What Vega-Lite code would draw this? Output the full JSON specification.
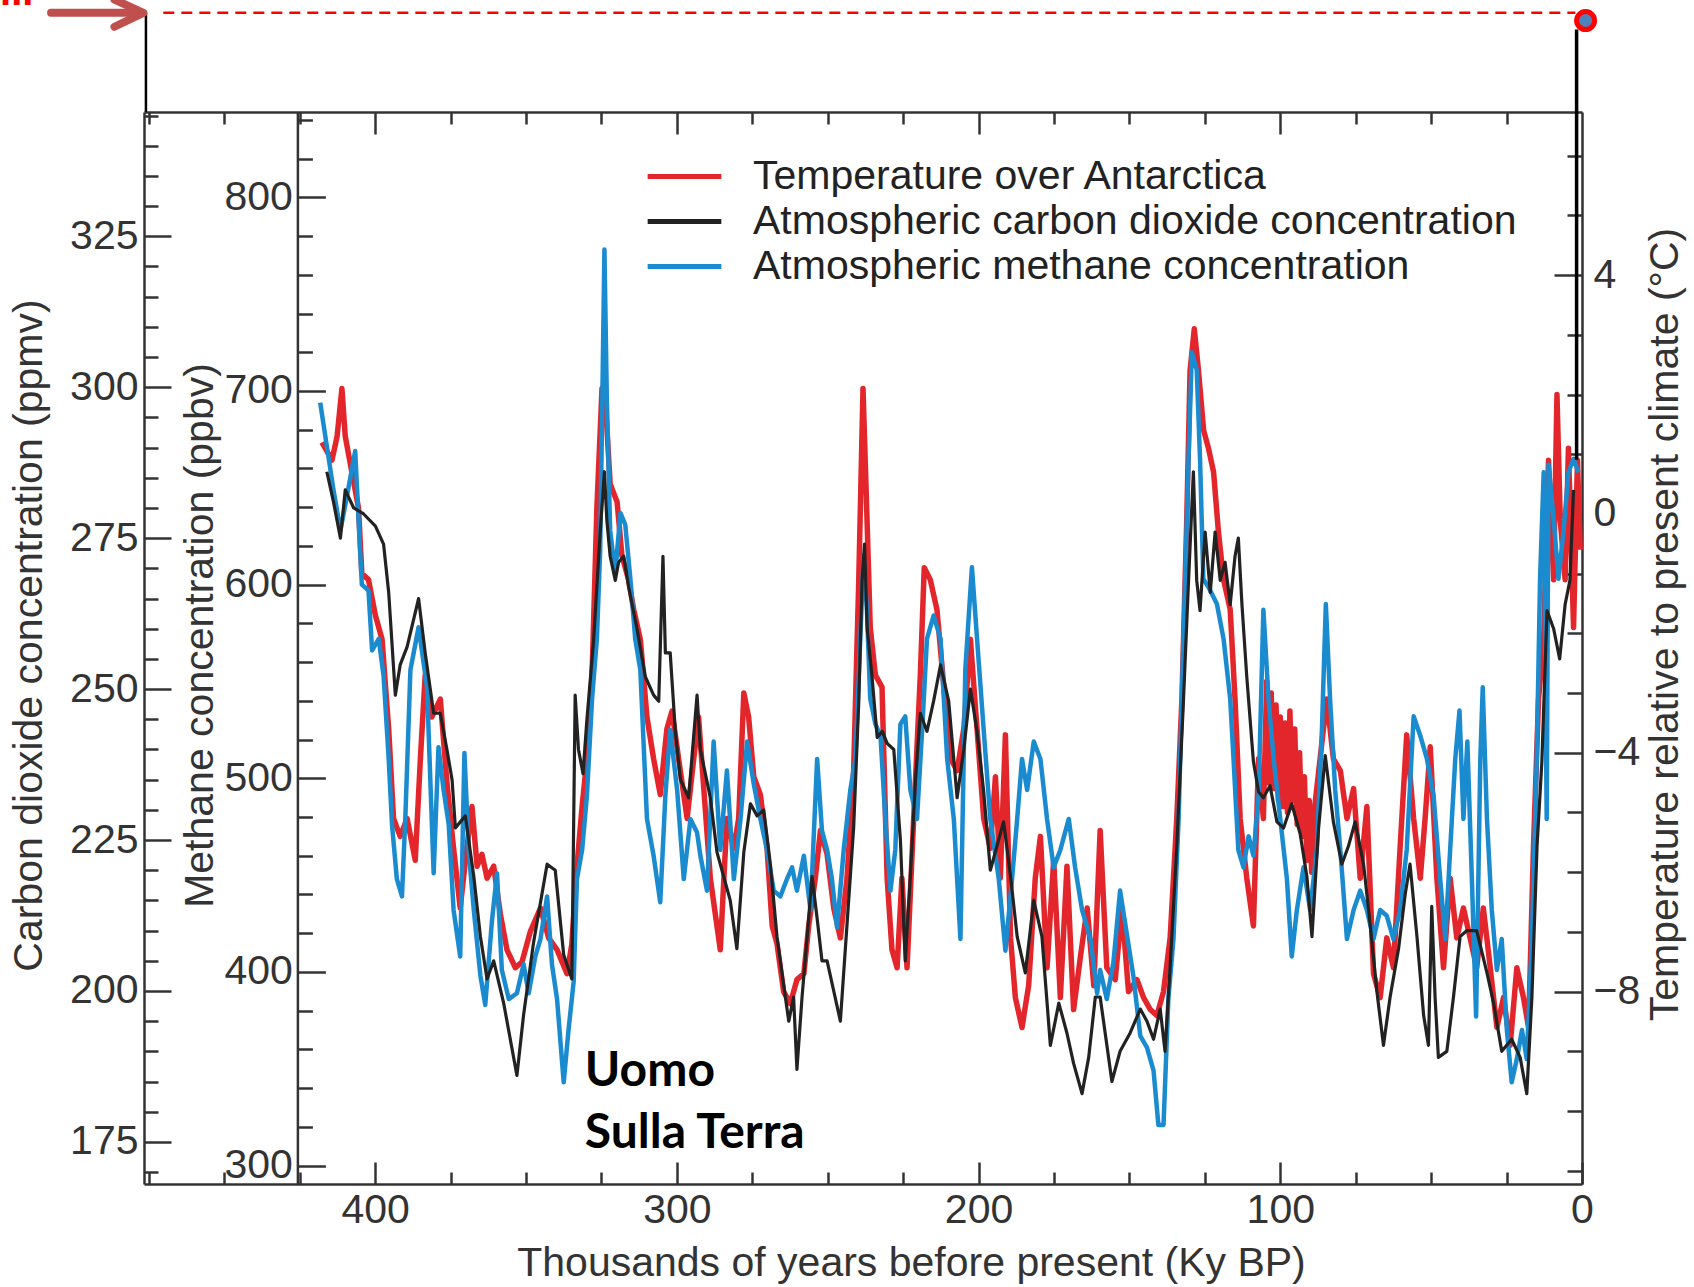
{
  "$schema": "https://vega.github.io/schema/vega-lite/v6.json",
  "width": 1438,
  "height": 1072,
  "autosize": {"type": "none"},
  "padding": {"left": 144, "top": 112, "right": 112, "bottom": 103},
  "background": "white",
  "config": {
    "view": {"stroke": null},
    "axis": {
      "labelFont": "Liberation Sans", "titleFont": "Liberation Sans",
      "labelFontSize": 41, "titleFontSize": 41,
      "labelColor": "#333333", "titleColor": "#333333", "titleFontWeight": "normal",
      "domainColor": "#333333", "tickColor": "#333333", "domainWidth": 2.5, "tickWidth": 2.5,
      "grid": false, "labelFlush": false, "labelOverlap": false
    },
    "legend": {
      "labelFont": "Liberation Sans", "labelFontSize": 41, "labelColor": "#222222",
      "symbolType": "M-2.33,0H2.33", "symbolSize": 1000, "symbolStrokeWidth": 5,
      "labelOffset": 48, "rowPadding": 3, "padding": 0, "labelLimit": 1000
    }
  },
  "datasets": {
    "temp": [
      {"ky":417.6,"temp":1.2},{"ky":414.3,"temp":0.9},{"ky":412.6,"temp":1.3},{"ky":411.0,"temp":2.1},{"ky":409.9,"temp":1.3},{"ky":407.7,"temp":0.7},{"ky":405.5,"temp":0.1},{"ky":404.4,"temp":-1.0},{"ky":402.2,"temp":-1.1},{"ky":399.9,"temp":-1.7},{"ky":397.7,"temp":-2.1},{"ky":395.5,"temp":-3.6},{"ky":393.9,"temp":-5.1},{"ky":391.7,"temp":-5.4},{"ky":389.4,"temp":-5.1},{"ky":386.7,"temp":-5.8},{"ky":385.0,"temp":-4.1},{"ky":383.4,"temp":-2.7},{"ky":381.2,"temp":-3.4},{"ky":378.4,"temp":-3.1},{"ky":376.2,"temp":-4.5},{"ky":374.0,"temp":-5.6},{"ky":371.8,"temp":-6.6},{"ky":369.6,"temp":-5.6},{"ky":367.9,"temp":-4.9},{"ky":366.2,"temp":-5.9},{"ky":364.6,"temp":-5.7},{"ky":362.9,"temp":-6.1},{"ky":360.7,"temp":-5.9},{"ky":358.5,"temp":-6.7},{"ky":356.3,"temp":-7.3},{"ky":353.5,"temp":-7.6},{"ky":351.3,"temp":-7.5},{"ky":348.6,"temp":-7.0},{"ky":345.2,"temp":-6.6},{"ky":342.5,"temp":-7.1},{"ky":339.7,"temp":-7.3},{"ky":336.4,"temp":-7.7},{"ky":334.8,"temp":-7.2},{"ky":333.1,"temp":-5.9},{"ky":331.4,"temp":-4.9},{"ky":329.8,"temp":-4.1},{"ky":328.1,"temp":-2.7},{"ky":326.5,"temp":0.1},{"ky":324.8,"temp":2.1},{"ky":323.7,"temp":1.9},{"ky":322.1,"temp":0.5},{"ky":319.8,"temp":0.2},{"ky":318.2,"temp":-0.7},{"ky":316.0,"temp":-1.1},{"ky":314.3,"temp":-1.6},{"ky":312.1,"temp":-2.1},{"ky":309.9,"temp":-3.4},{"ky":307.7,"temp":-4.1},{"ky":305.5,"temp":-4.7},{"ky":303.3,"temp":-3.6},{"ky":301.6,"temp":-3.3},{"ky":299.4,"temp":-4.1},{"ky":296.6,"temp":-5.1},{"ky":294.4,"temp":-4.1},{"ky":292.8,"temp":-3.4},
      {"ky":291.5,"temp":-4.3},{"ky":288.9,"temp":-6.1},{"ky":285.6,"temp":-7.3},{"ky":283.4,"temp":-5.1},{"ky":281.1,"temp":-5.6},{"ky":279.5,"temp":-5.1},{"ky":277.8,"temp":-3.0},{"ky":276.2,"temp":-3.4},{"ky":274.5,"temp":-4.4},{"ky":272.3,"temp":-4.7},{"ky":270.1,"temp":-5.6},{"ky":268.4,"temp":-6.9},{"ky":266.8,"temp":-7.2},{"ky":264.6,"temp":-8.0},{"ky":262.4,"temp":-8.2},{"ky":260.2,"temp":-7.8},{"ky":257.9,"temp":-7.7},{"ky":256.3,"temp":-6.9},{"ky":254.1,"temp":-6.1},{"ky":252.4,"temp":-5.3},{"ky":250.2,"temp":-5.7},{"ky":248.0,"temp":-6.6},{"ky":245.8,"temp":-7.1},{"ky":243.6,"temp":-6.1},{"ky":241.4,"temp":-4.3},{"ky":239.7,"temp":-1.1},{"ky":238.3,"temp":2.1},{"ky":237.2,"temp":0.3},{"ky":235.9,"temp":-1.9},{"ky":234.2,"temp":-2.7},{"ky":232.0,"temp":-2.9},{"ky":230.3,"temp":-6.1},{"ky":228.7,"temp":-7.3},{"ky":227.0,"temp":-7.6},{"ky":225.4,"temp":-6.1},{"ky":223.7,"temp":-7.6},{"ky":221.5,"temp":-5.1},{"ky":219.3,"temp":-2.7},{"ky":218.0,"temp":-0.9},{"ky":216.0,"temp":-1.1},{"ky":213.8,"temp":-1.6},{"ky":211.5,"temp":-2.9},{"ky":209.3,"temp":-4.1},{"ky":207.1,"temp":-4.3},{"ky":204.9,"temp":-3.6},{"ky":202.7,"temp":-2.1},{"ky":200.5,"temp":-3.6},{"ky":198.3,"temp":-5.1},{"ky":196.1,"temp":-5.6},{"ky":194.4,"temp":-4.4},{"ky":192.8,"temp":-6.1},{"ky":191.1,"temp":-3.7},{"ky":189.4,"temp":-7.1},{"ky":187.8,"temp":-8.1},{"ky":185.6,"temp":-8.6},{"ky":183.4,"temp":-7.9},{"ky":181.2,"temp":-6.1},{"ky":179.5,"temp":-5.4},{"ky":177.3,"temp":-7.6},{"ky":175.1,"temp":-5.8},{"ky":172.9,"temp":-8.1},{"ky":170.7,"temp":-5.9},{"ky":168.5,"temp":-8.3},{"ky":166.2,"temp":-7.4},{"ky":164.0,"temp":-6.6},{"ky":161.8,"temp":-7.9},
      {"ky":159.7,"temp":-5.3},{"ky":157.5,"temp":-7.6},{"ky":154.7,"temp":-7.8},{"ky":152.5,"temp":-6.6},{"ky":150.3,"temp":-8.0},{"ky":147.5,"temp":-7.8},{"ky":145.3,"temp":-8.1},{"ky":143.1,"temp":-8.3},{"ky":140.9,"temp":-8.4},{"ky":138.7,"temp":-8.0},{"ky":136.5,"temp":-7.1},{"ky":134.3,"temp":-5.1},{"ky":132.6,"temp":-3.1},{"ky":131.0,"temp":-0.1},{"ky":129.9,"temp":2.4},{"ky":128.5,"temp":3.1},{"ky":127.1,"temp":2.4},{"ky":125.4,"temp":1.4},{"ky":123.8,"temp":1.1},{"ky":122.1,"temp":0.7},{"ky":120.5,"temp":-0.3},{"ky":118.8,"temp":-1.1},{"ky":116.6,"temp":-1.6},{"ky":115.0,"temp":-3.1},{"ky":113.3,"temp":-5.1},{"ky":111.1,"temp":-6.1},{"ky":108.9,"temp":-6.9},{"ky":107.2,"temp":-4.1},{"ky":105.6,"temp":-5.1},{"ky":104.5,"temp":-2.8},{"ky":103.9,"temp":-4.5},{"ky":103.0,"temp":-3.0},{"ky":102.2,"temp":-4.6},{"ky":101.4,"temp":-3.2},{"ky":100.6,"temp":-4.8},{"ky":100.0,"temp":-3.4},{"ky":99.2,"temp":-4.9},{"ky":98.4,"temp":-3.5},{"ky":97.6,"temp":-5.0},{"ky":96.8,"temp":-3.3},{"ky":96.0,"temp":-4.8},{"ky":95.2,"temp":-3.6},{"ky":94.4,"temp":-5.2},{"ky":93.6,"temp":-4.0},{"ky":92.8,"temp":-5.4},{"ky":92.0,"temp":-4.4},{"ky":91.2,"temp":-5.8},{"ky":90.4,"temp":-4.8},{"ky":89.6,"temp":-6.0},{"ky":88.8,"temp":-5.0},{"ky":86.8,"temp":-4.1},{"ky":84.6,"temp":-3.1},{"ky":82.4,"temp":-4.1},{"ky":80.1,"temp":-4.3},{"ky":77.9,"temp":-5.1},{"ky":75.7,"temp":-4.6},{"ky":73.5,"temp":-6.1},{"ky":71.3,"temp":-4.9},{"ky":69.1,"temp":-7.7},{"ky":66.9,"temp":-8.1},{"ky":64.7,"temp":-7.1},{"ky":62.5,"temp":-7.6},{"ky":60.3,"temp":-5.6},{"ky":58.1,"temp":-3.7},{"ky":55.8,"temp":-5.1},{"ky":53.6,"temp":-6.1},{"ky":52.0,"temp":-5.1},{"ky":50.3,"temp":-3.9},{"ky":48.1,"temp":-6.1},{"ky":45.9,"temp":-7.6},{"ky":43.7,"temp":-6.1},{"ky":41.5,"temp":-7.1},{"ky":39.3,"temp":-6.6},{"ky":37.1,"temp":-7.1},{"ky":34.9,"temp":-7.6},{"ky":32.7,"temp":-6.6},{"ky":30.4,"temp":-7.6},{"ky":28.2,"temp":-8.6},{"ky":26.0,"temp":-8.1},{"ky":23.8,"temp":-8.9},{"ky":21.6,"temp":-7.6},{"ky":19.4,"temp":-8.1},{"ky":17.7,"temp":-8.6},{"ky":16.1,"temp":-5.6},{"ky":14.4,"temp":-3.1},{"ky":12.7,"temp":-2.1},{"ky":11.1,"temp":0.9},{"ky":9.4,"temp":-1.1},{"ky":8.3,"temp":2.0},{"ky":7.2,"temp":-0.1},{"ky":5.6,"temp":-1.1},{"ky":4.5,"temp":1.1},{"ky":2.8,"temp":-1.9},{"ky":1.5,"temp":0.9},{"ky":0.6,"temp":-0.6}
    ],
    "ch4": [
      {"ky":418.2,"ch4":694},{"ky":413.8,"ch4":649},{"ky":411.5,"ch4":628},{"ky":409.3,"ch4":646},{"ky":406.6,"ch4":669},{"ky":405.5,"ch4":634},{"ky":404.4,"ch4":600},{"ky":402.2,"ch4":597},{"ky":401.0,"ch4":566},{"ky":398.8,"ch4":572},{"ky":397.2,"ch4":553},{"ky":395.5,"ch4":510},{"ky":394.4,"ch4":476},{"ky":392.8,"ch4":448},{"ky":391.1,"ch4":439},{"ky":390.0,"ch4":479},{"ky":388.3,"ch4":556},{"ky":385.6,"ch4":578},{"ky":382.8,"ch4":547},{"ky":380.6,"ch4":451},{"ky":379.0,"ch4":516},{"ky":377.3,"ch4":494},{"ky":375.6,"ch4":476},{"ky":374.0,"ch4":432},{"ky":371.8,"ch4":408},{"ky":370.4,"ch4":513},{"ky":369.0,"ch4":463},{"ky":367.3,"ch4":432},{"ky":365.1,"ch4":398},{"ky":363.5,"ch4":383},{"ky":361.3,"ch4":426},{"ky":359.6,"ch4":451},{"ky":358.0,"ch4":401},{"ky":355.7,"ch4":386},{"ky":353.0,"ch4":389},{"ky":350.8,"ch4":404},{"ky":349.1,"ch4":389},{"ky":346.9,"ch4":408},{"ky":345.2,"ch4":417},{"ky":343.0,"ch4":439},{"ky":341.4,"ch4":404},{"ky":339.7,"ch4":386},{"ky":337.5,"ch4":343},{"ky":335.9,"ch4":370},{"ky":334.2,"ch4":395},{"ky":333.1,"ch4":448},{"ky":331.4,"ch4":463},{"ky":329.8,"ch4":491},{"ky":328.1,"ch4":541},{"ky":326.5,"ch4":572},{"ky":325.4,"ch4":618},{"ky":324.0,"ch4":773},{"ky":323.2,"ch4":696},{"ky":322.1,"ch4":628},{"ky":320.4,"ch4":606},{"ky":318.7,"ch4":637},{"ky":317.1,"ch4":631},{"ky":315.4,"ch4":603},{"ky":313.8,"ch4":572},{"ky":312.1,"ch4":556},{"ky":309.9,"ch4":479},{"ky":307.7,"ch4":460},{"ky":305.5,"ch4":436},{"ky":303.8,"ch4":491},{"ky":302.2,"ch4":525},{"ky":299.9,"ch4":494},{"ky":297.7,"ch4":448},{"ky":295.5,"ch4":479},{"ky":293.3,"ch4":472},
      {"ky":292.2,"ch4":460},{"ky":290.0,"ch4":442},{"ky":287.8,"ch4":519},{"ky":285.6,"ch4":463},{"ky":283.4,"ch4":504},{"ky":281.1,"ch4":448},{"ky":278.9,"ch4":479},{"ky":276.7,"ch4":519},{"ky":274.5,"ch4":497},{"ky":272.3,"ch4":479},{"ky":270.1,"ch4":463},{"ky":267.9,"ch4":442},{"ky":265.7,"ch4":439},{"ky":263.5,"ch4":448},{"ky":261.8,"ch4":454},{"ky":260.2,"ch4":442},{"ky":257.9,"ch4":460},{"ky":255.7,"ch4":432},{"ky":253.5,"ch4":510},{"ky":251.9,"ch4":473},{"ky":250.2,"ch4":463},{"ky":248.6,"ch4":448},{"ky":246.9,"ch4":423},{"ky":244.7,"ch4":463},{"ky":242.5,"ch4":494},{"ky":240.8,"ch4":510},{"ky":239.2,"ch4":572},{"ky":238.1,"ch4":615},{"ky":237.0,"ch4":587},{"ky":235.9,"ch4":541},{"ky":234.2,"ch4":528},{"ky":232.5,"ch4":522},{"ky":230.9,"ch4":479},{"ky":229.2,"ch4":442},{"ky":227.6,"ch4":463},{"ky":225.9,"ch4":528},{"ky":224.3,"ch4":532},{"ky":222.6,"ch4":494},{"ky":220.4,"ch4":479},{"ky":218.7,"ch4":525},{"ky":217.1,"ch4":572},{"ky":214.9,"ch4":584},{"ky":212.6,"ch4":572},{"ky":210.4,"ch4":510},{"ky":208.2,"ch4":479},{"ky":206.0,"ch4":417},{"ky":204.4,"ch4":556},{"ky":202.2,"ch4":609},{"ky":200.5,"ch4":572},{"ky":198.3,"ch4":525},{"ky":196.1,"ch4":479},{"ky":193.3,"ch4":448},{"ky":191.1,"ch4":411},{"ky":188.9,"ch4":448},{"ky":187.2,"ch4":479},{"ky":185.6,"ch4":510},{"ky":183.9,"ch4":494},{"ky":181.7,"ch4":519},{"ky":179.5,"ch4":510},{"ky":177.3,"ch4":479},{"ky":175.1,"ch4":454},{"ky":172.9,"ch4":463},{"ky":170.1,"ch4":479},{"ky":168.0,"ch4":454},{"ky":165.7,"ch4":432},{"ky":162.9,"ch4":417},{"ky":160.7,"ch4":389},
      {"ky":159.7,"ch4":401},{"ky":157.5,"ch4":386},{"ky":155.3,"ch4":405},{"ky":153.1,"ch4":442},{"ky":150.9,"ch4":420},{"ky":148.7,"ch4":398},{"ky":146.4,"ch4":367},{"ky":144.2,"ch4":361},{"ky":142.0,"ch4":349},{"ky":140.4,"ch4":321},{"ky":138.7,"ch4":321},{"ky":137.1,"ch4":386},{"ky":135.4,"ch4":417},{"ky":133.7,"ch4":479},{"ky":132.1,"ch4":572},{"ky":130.4,"ch4":665},{"ky":129.3,"ch4":720},{"ky":127.7,"ch4":711},{"ky":126.6,"ch4":665},{"ky":125.5,"ch4":603},{"ky":123.2,"ch4":597},{"ky":121.0,"ch4":590},{"ky":118.8,"ch4":572},{"ky":116.6,"ch4":541},{"ky":115.5,"ch4":510},{"ky":113.9,"ch4":463},{"ky":112.2,"ch4":454},{"ky":110.5,"ch4":470},{"ky":108.9,"ch4":460},{"ky":107.2,"ch4":491},{"ky":105.6,"ch4":587},{"ky":103.9,"ch4":541},{"ky":102.2,"ch4":510},{"ky":100.0,"ch4":479},{"ky":97.8,"ch4":448},{"ky":96.2,"ch4":408},{"ky":94.5,"ch4":432},{"ky":92.3,"ch4":454},{"ky":90.1,"ch4":432},{"ky":87.9,"ch4":463},{"ky":86.2,"ch4":525},{"ky":84.9,"ch4":590},{"ky":83.5,"ch4":541},{"ky":81.8,"ch4":494},{"ky":80.1,"ch4":463},{"ky":77.9,"ch4":417},{"ky":75.7,"ch4":432},{"ky":73.5,"ch4":442},{"ky":71.3,"ch4":432},{"ky":69.1,"ch4":417},{"ky":66.9,"ch4":432},{"ky":64.7,"ch4":429},{"ky":62.5,"ch4":417},{"ky":60.3,"ch4":432},{"ky":58.1,"ch4":463},{"ky":55.8,"ch4":532},{"ky":53.6,"ch4":522},{"ky":51.4,"ch4":510},{"ky":49.2,"ch4":491},{"ky":47.0,"ch4":448},{"ky":45.3,"ch4":417},{"ky":43.7,"ch4":463},{"ky":42.0,"ch4":510},{"ky":40.6,"ch4":535},{"ky":39.3,"ch4":479},{"ky":38.0,"ch4":519},{"ky":36.5,"ch4":448},{"ky":35.1,"ch4":377},{"ky":33.7,"ch4":510},{"ky":32.9,"ch4":547},{"ky":31.5,"ch4":479},{"ky":29.9,"ch4":432},{"ky":28.2,"ch4":401},{"ky":26.6,"ch4":417},{"ky":24.9,"ch4":370},{"ky":23.3,"ch4":343},{"ky":21.6,"ch4":355},{"ky":19.9,"ch4":370},{"ky":18.3,"ch4":355},{"ky":16.6,"ch4":417},{"ky":15.0,"ch4":510},{"ky":13.9,"ch4":603},{"ky":12.7,"ch4":658},{"ky":11.7,"ch4":479},{"ky":11.1,"ch4":662},{"ky":9.4,"ch4":634},{"ky":7.8,"ch4":603},{"ky":6.1,"ch4":628},{"ky":4.5,"ch4":658},{"ky":2.8,"ch4":665},{"ky":1.2,"ch4":658}
    ],
    "co2": [
      {"ky":416.0,"co2":286},{"ky":413.8,"co2":281},{"ky":411.5,"co2":275},{"ky":409.9,"co2":283},{"ky":407.1,"co2":280},{"ky":403.8,"co2":279},{"ky":399.9,"co2":277},{"ky":397.2,"co2":274},{"ky":395.5,"co2":266},{"ky":393.3,"co2":249},{"ky":391.7,"co2":254},{"ky":389.4,"co2":257},{"ky":385.6,"co2":265},{"ky":383.4,"co2":256},{"ky":380.6,"co2":246},{"ky":378.4,"co2":246},{"ky":376.2,"co2":240},{"ky":374.5,"co2":235},{"ky":373.4,"co2":227},{"ky":371.8,"co2":228},{"ky":370.1,"co2":229},{"ky":367.3,"co2":219},{"ky":365.1,"co2":209},{"ky":362.9,"co2":202},{"ky":360.7,"co2":205},{"ky":357.4,"co2":198},{"ky":353.0,"co2":186},{"ky":350.8,"co2":196},{"ky":347.5,"co2":208},{"ky":343.0,"co2":221},{"ky":340.3,"co2":220},{"ky":337.5,"co2":206},{"ky":334.8,"co2":202},{"ky":333.7,"co2":249},{"ky":332.6,"co2":240},{"ky":331.1,"co2":236},{"ky":329.8,"co2":245},{"ky":327.6,"co2":258},{"ky":325.4,"co2":276},{"ky":324.0,"co2":286},{"ky":323.2,"co2":278},{"ky":322.1,"co2":272},{"ky":320.4,"co2":268},{"ky":319.3,"co2":271},{"ky":317.6,"co2":272},{"ky":316.0,"co2":267},{"ky":313.2,"co2":260},{"ky":310.4,"co2":252},{"ky":307.7,"co2":249},{"ky":306.0,"co2":248},{"ky":304.6,"co2":272},{"ky":303.8,"co2":256},{"ky":302.2,"co2":256},{"ky":300.5,"co2":243},{"ky":298.8,"co2":235},{"ky":296.1,"co2":232},{"ky":293.3,"co2":249},
      {"ky":292.2,"co2":240},{"ky":288.9,"co2":232},{"ky":286.7,"co2":223},{"ky":284.5,"co2":219},{"ky":282.3,"co2":215},{"ky":280.1,"co2":207},{"ky":277.8,"co2":223},{"ky":275.6,"co2":231},{"ky":273.4,"co2":229},{"ky":271.2,"co2":230},{"ky":269.0,"co2":221},{"ky":266.8,"co2":209},{"ky":264.6,"co2":201},{"ky":262.9,"co2":195},{"ky":261.3,"co2":199},{"ky":260.2,"co2":187},{"ky":258.5,"co2":199},{"ky":256.8,"co2":209},{"ky":255.2,"co2":219},{"ky":253.5,"co2":212},{"ky":251.9,"co2":205},{"ky":250.2,"co2":205},{"ky":248.0,"co2":200},{"ky":245.8,"co2":195},{"ky":243.6,"co2":211},{"ky":241.4,"co2":227},{"ky":239.7,"co2":248},{"ky":238.6,"co2":268},{"ky":237.8,"co2":274},{"ky":236.9,"co2":260},{"ky":235.3,"co2":252},{"ky":233.6,"co2":242},{"ky":231.9,"co2":243},{"ky":230.3,"co2":241},{"ky":228.1,"co2":240},{"ky":225.9,"co2":225},{"ky":224.3,"co2":205},{"ky":222.6,"co2":219},{"ky":220.9,"co2":235},{"ky":219.3,"co2":246},{"ky":217.1,"co2":243},{"ky":214.9,"co2":248},{"ky":212.6,"co2":254},{"ky":209.9,"co2":248},{"ky":207.1,"co2":232},{"ky":204.9,"co2":240},{"ky":202.7,"co2":250},{"ky":200.5,"co2":243},{"ky":198.3,"co2":233},{"ky":196.1,"co2":220},{"ky":193.9,"co2":224},{"ky":191.7,"co2":228},{"ky":189.4,"co2":219},{"ky":187.2,"co2":209},{"ky":184.5,"co2":203},{"ky":181.7,"co2":215},{"ky":179.0,"co2":209},{"ky":176.2,"co2":191},{"ky":173.4,"co2":198},{"ky":170.7,"co2":193},{"ky":168.5,"co2":188},{"ky":165.7,"co2":183},{"ky":163.5,"co2":189},{"ky":161.3,"co2":199},
      {"ky":159.7,"co2":199},{"ky":155.8,"co2":185},{"ky":153.1,"co2":190},{"ky":149.8,"co2":193},{"ky":146.4,"co2":197},{"ky":144.2,"co2":195},{"ky":142.0,"co2":192},{"ky":139.8,"co2":197},{"ky":138.2,"co2":190},{"ky":136.5,"co2":204},{"ky":134.3,"co2":224},{"ky":132.1,"co2":248},{"ky":130.4,"co2":268},{"ky":128.8,"co2":286},{"ky":127.7,"co2":268},{"ky":126.6,"co2":263},{"ky":124.9,"co2":276},{"ky":123.2,"co2":266},{"ky":121.6,"co2":276},{"ky":119.9,"co2":268},{"ky":118.3,"co2":271},{"ky":116.6,"co2":264},{"ky":115.0,"co2":272},{"ky":113.9,"co2":275},{"ky":112.7,"co2":264},{"ky":111.1,"co2":252},{"ky":108.9,"co2":238},{"ky":107.2,"co2":233},{"ky":105.6,"co2":232},{"ky":103.4,"co2":234},{"ky":101.1,"co2":228},{"ky":98.9,"co2":227},{"ky":96.2,"co2":231},{"ky":93.4,"co2":226},{"ky":91.2,"co2":219},{"ky":89.5,"co2":209},{"ky":87.3,"co2":227},{"ky":85.1,"co2":239},{"ky":82.4,"co2":228},{"ky":79.6,"co2":221},{"ky":77.4,"co2":224},{"ky":75.2,"co2":228},{"ky":72.4,"co2":221},{"ky":70.2,"co2":211},{"ky":68.0,"co2":200},{"ky":65.8,"co2":191},{"ky":63.6,"co2":199},{"ky":60.8,"co2":207},{"ky":58.6,"co2":216},{"ky":57.0,"co2":221},{"ky":54.7,"co2":209},{"ky":52.5,"co2":196},{"ky":50.9,"co2":191},{"ky":49.8,"co2":214},{"ky":48.7,"co2":199},{"ky":47.6,"co2":189},{"ky":44.8,"co2":190},{"ky":42.6,"co2":199},{"ky":40.4,"co2":209},{"ky":38.2,"co2":210},{"ky":34.9,"co2":210},{"ky":31.5,"co2":203},{"ky":29.3,"co2":198},{"ky":26.6,"co2":190},{"ky":23.3,"co2":192},{"ky":20.5,"co2":189},{"ky":18.3,"co2":183},{"ky":16.6,"co2":199},{"ky":14.9,"co2":224},{"ky":13.3,"co2":238},{"ky":11.6,"co2":263},{"ky":9.4,"co2":260},{"ky":7.4,"co2":255},{"ky":5.6,"co2":264},{"ky":4.0,"co2":268},{"ky":2.8,"co2":283}
    ]
  },
  "layer": [
    {
      "data": {"name": "temp"},
      "mark": {"type": "line", "strokeWidth": 5.5, "strokeJoin": "round"},
      "encoding": {
        "x": {"field": "ky", "type": "quantitative",
          "scale": {"domain": [0, 476.6], "reverse": true, "nice": false, "zero": false},
          "axis": {"orient": "bottom", "values": [0, 100, 200, 300, 400], "tickSize": -22, "labelPadding": 28,
            "title": "Thousands of years before present (Ky BP)", "titleX": 767, "titleY": 91, "titleBaseline": "alphabetic", "titleAnchor": null, "titleAlign": "center"}},
        "y": {"field": "temp", "type": "quantitative",
          "scale": {"domain": [-11.222, 6.732], "nice": false, "zero": false},
          "axis": {"orient": "right", "values": [-8, -4, 0, 4], "tickSize": -28, "labelPadding": 39, "labelAlign": "left",
            "title": "Temperature relative to present climate (°C)", "titleAngle": 270, "titleX": 83, "titleY": 512, "titleAlign": "center", "titleBaseline": "middle"}},
        "color": {"datum": "Temperature over Antarctica", "type": "nominal",
          "scale": {"domain": ["Temperature over Antarctica", "Atmospheric carbon dioxide concentration", "Atmospheric methane concentration"], "range": ["#e3262b", "#222222", "#1b8bcf"]},
          "legend": {"orient": "none", "legendX": 520, "legendY": 44, "title": null, "direction": "vertical"}}
      }
    },
    {
      "data": {"name": "ch4"},
      "mark": {"type": "line", "strokeWidth": 4.5, "strokeJoin": "round"},
      "encoding": {
        "x": {"field": "ky", "type": "quantitative",
          "scale": {"domain": [0, 476.6], "reverse": true, "nice": false, "zero": false},
          "axis": {"orient": "bottom", "values": [25, 50, 75, 125, 150, 175, 225, 250, 275, 325, 350, 375, 425, 450, 475], "tickSize": -12, "labels": false, "domain": false, "title": null}},
        "y": {"field": "ch4", "type": "quantitative",
          "scale": {"domain": [290.5, 844.06], "nice": false, "zero": false},
          "axis": {"orient": "left", "offset": -153.4, "values": [300, 400, 500, 600, 700, 800], "tickSize": -28, "labelPadding": 33,
            "title": "Methane concentration (ppbv)", "titleAngle": 270, "titleX": -97, "titleY": 523, "titleAlign": "center", "titleBaseline": "middle"}},
        "color": {"datum": "Atmospheric methane concentration", "type": "nominal"}
      }
    },
    {
      "data": {"name": "co2"},
      "mark": {"type": "line", "strokeWidth": 3.2, "strokeJoin": "round"},
      "encoding": {
        "x": {"field": "ky", "type": "quantitative",
          "scale": {"domain": [0, 476.6], "reverse": true, "nice": false, "zero": false},
          "axis": {"orient": "top", "values": [100, 200, 300, 400], "tickSize": -22, "labels": false, "title": null}},
        "y": {"field": "co2", "type": "quantitative",
          "scale": {"domain": [168.03, 345.58], "nice": false, "zero": false},
          "axis": {"orient": "left", "values": [175, 200, 225, 250, 275, 300, 325], "tickSize": -27, "labelPadding": 33,
            "title": "Carbon dioxide concentration (ppmv)", "titleAngle": 270, "titleX": -115, "titleY": 523, "titleAlign": "center", "titleBaseline": "middle"}},
        "color": {"datum": "Atmospheric carbon dioxide concentration", "type": "nominal"}
      }
    },
    {
      "data": {"values": [{"ky": 470.2, "ky2": 2.2, "t": 8.393}]},
      "mark": {"type": "rule", "color": "#ff0000", "strokeWidth": 2.5, "strokeDash": [11, 7]},
      "encoding": {
        "x": {"field": "ky", "type": "quantitative",
          "scale": {"domain": [0, 476.6], "reverse": true, "nice": false, "zero": false},
          "axis": {"orient": "top", "values": [25, 50, 75, 125, 150, 175, 225, 250, 275, 325, 350, 375, 425, 450, 475], "tickSize": -12, "labels": false, "domain": false, "title": null}},
        "x2": {"field": "ky2"},
        "y": {"field": "t", "type": "quantitative",
          "scale": {"domain": [-11.222, 6.732], "nice": false, "zero": false},
          "axis": {"orient": "right", "values": [-11, -10, -9, -7, -6, -5, -3, -2, -1, 1, 2, 3, 5, 6], "tickSize": -15, "labels": false, "domain": false, "title": null}}
      }
    },
    {
      "data": {"values": [{"ky": 475.96, "c1": 361.99, "c2": 345.58}]},
      "mark": {"type": "rule", "color": "#000000", "strokeWidth": 2.5},
      "encoding": {
        "x": {"field": "ky", "type": "quantitative",
          "scale": {"domain": [0, 476.6], "reverse": true, "nice": false, "zero": false}, "axis": null},
        "y": {"field": "c1", "type": "quantitative",
          "scale": {"domain": [168.03, 345.58], "nice": false, "zero": false},
          "axis": {"orient": "left", "values": [170, 180, 185, 190, 195, 205, 210, 215, 220, 230, 235, 240, 245, 255, 260, 265, 270, 280, 285, 290, 295, 305, 310, 315, 320, 330, 335, 340, 345], "tickSize": -14, "labels": false, "domain": false, "title": null}},
        "y2": {"field": "c2"}
      }
    },
    {
      "data": {"values": [{"ky": 1.79, "c1": 359.23, "c2": 287.99}]},
      "mark": {"type": "rule", "color": "#000000", "strokeWidth": 3.5},
      "encoding": {
        "x": {"field": "ky", "type": "quantitative",
          "scale": {"domain": [0, 476.6], "reverse": true, "nice": false, "zero": false}, "axis": null},
        "y": {"field": "c1", "type": "quantitative",
          "scale": {"domain": [168.03, 345.58], "nice": false, "zero": false}, "axis": null},
        "y2": {"field": "c2"}
      }
    },
    {
      "data": {"values": [{"ky": 507.4, "ky2": 478.5, "t": 8.393}]},
      "mark": {"type": "rule", "color": "#c0504d", "strokeWidth": 8, "strokeCap": "round"},
      "encoding": {
        "x": {"field": "ky", "type": "quantitative",
          "scale": {"domain": [0, 476.6], "reverse": true, "nice": false, "zero": false}, "axis": null},
        "x2": {"field": "ky2"},
        "y": {"field": "t", "type": "quantitative",
          "scale": {"domain": [-11.222, 6.732], "nice": false, "zero": false}, "axis": null}
      }
    },
    {
      "data": {"values": [{"ky": 486.4, "t": 8.615, "i": 1}, {"ky": 476.8, "t": 8.393, "i": 2}, {"ky": 486.4, "t": 8.16, "i": 3}]},
      "mark": {"type": "line", "color": "#c0504d", "strokeWidth": 8, "strokeCap": "round", "strokeJoin": "round"},
      "encoding": {
        "x": {"field": "ky", "type": "quantitative",
          "scale": {"domain": [0, 476.6], "reverse": true, "nice": false, "zero": false}, "axis": null},
        "y": {"field": "t", "type": "quantitative",
          "scale": {"domain": [-11.222, 6.732], "nice": false, "zero": false}, "axis": null},
        "order": {"field": "i", "type": "quantitative"}
      }
    },
    {
      "data": {"values": [{"ky": -1.19, "t": 8.264}]},
      "mark": {"type": "point", "shape": "circle", "filled": true, "fill": "#4f81bd", "stroke": "#ff0000", "strokeWidth": 5, "size": 324, "opacity": 1},
      "encoding": {
        "x": {"field": "ky", "type": "quantitative",
          "scale": {"domain": [0, 476.6], "reverse": true, "nice": false, "zero": false}, "axis": null},
        "y": {"field": "t", "type": "quantitative",
          "scale": {"domain": [-11.222, 6.732], "nice": false, "zero": false}, "axis": null}
      }
    },
    {
      "data": {"values": [{"ky": 524.3, "t": 8.532, "label": "..."}]},
      "mark": {"type": "text", "color": "#ff0000", "font": "Liberation Sans", "fontWeight": "bold", "fontSize": 40, "align": "left", "baseline": "alphabetic"},
      "encoding": {
        "x": {"field": "ky", "type": "quantitative",
          "scale": {"domain": [0, 476.6], "reverse": true, "nice": false, "zero": false}, "axis": null},
        "y": {"field": "t", "type": "quantitative",
          "scale": {"domain": [-11.222, 6.732], "nice": false, "zero": false}, "axis": null},
        "text": {"field": "label"}
      }
    },
    {
      "data": {"values": [{"ky": 330.5, "c": 341.2, "label": "Uomo"}, {"ky": 330.5, "c": 308.9, "label": "Sulla Terra"}]},
      "mark": {"type": "text", "color": "#000000", "font": "Lato", "fontWeight": "bold", "fontSize": 48, "align": "left", "baseline": "alphabetic"},
      "encoding": {
        "x": {"field": "ky", "type": "quantitative",
          "scale": {"domain": [0, 476.6], "reverse": true, "nice": false, "zero": false}, "axis": null},
        "y": {"field": "c", "type": "quantitative",
          "scale": {"domain": [290.5, 844.06], "nice": false, "zero": false},
          "axis": {"orient": "left", "offset": -153.4, "values": [320, 340, 360, 380, 420, 440, 460, 480, 520, 540, 560, 580, 620, 640, 660, 680, 720, 740, 760, 780, 820, 840], "tickSize": -15, "labels": false, "domain": false, "title": null}},
        "text": {"field": "label"}
      }
    }
  ],
  "resolve": {"scale": {"y": "independent"}, "axis": {"x": "independent", "y": "independent"}}
}
